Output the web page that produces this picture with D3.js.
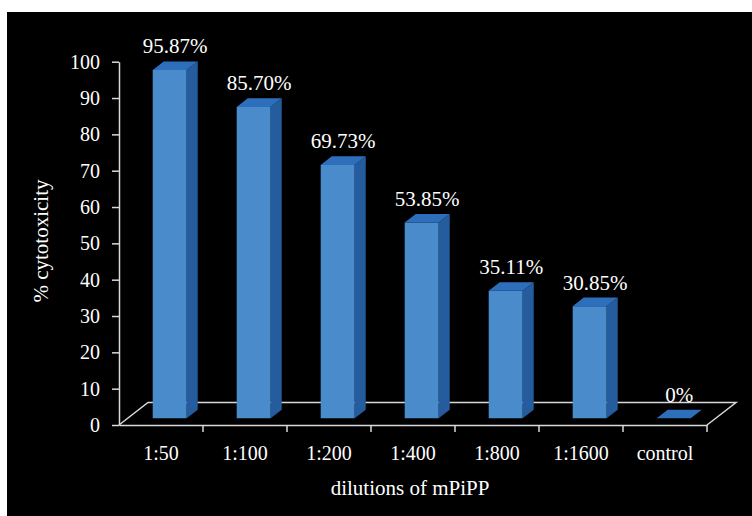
<!DOCTYPE html>
<html>
<head>
<meta charset="utf-8">
<script src="https://cdn.jsdelivr.net/npm/d3@7"></script>
<style>
  body { margin: 0; background: #fff; }
  svg { display: block; }
  text { font-family: "Liberation Serif", Tinos, "Times New Roman", Times, "DejaVu Serif", serif; fill: #fff; }
</style>
</head>
<body>
<svg id="chart" width="752" height="516"></svg>
<script>
const categories = ["1:50", "1:100", "1:200", "1:400", "1:800", "1:1600", "control"];
const values = [95.87, 85.70, 69.73, 53.85, 35.11, 30.85, 0];
const valueLabels = ["95.87%", "85.70%", "69.73%", "53.85%", "35.11%", "30.85%", "0%"];
const yTicks = [0, 10, 20, 30, 40, 50, 60, 70, 80, 90, 100];

const FONT = '"Liberation Serif", Tinos, "Times New Roman", Times, "DejaVu Serif", serif';
const svg = d3.select("#chart");
svg.append("rect").attr("x", 7).attr("y", 12).attr("width", 745).attr("height", 504).attr("fill", "#000");

const x = d3.scaleBand().domain(categories).range([119, 707]).padding(0);
const y = d3.scaleLinear().domain([0, 100]).range([425, 61.7]);

const floorD = { dx: 29, dy: -22.5 };
const fFront = 0.3, fBack = 0.68;
const axisColor = "#d9d9d9";

// floor
const x0 = x.range()[0], x1 = x.range()[1], y0 = y(0);
const floor = svg.append("g").attr("stroke", axisColor).attr("stroke-width", 1.5).attr("fill", "none");
floor.append("path").attr("d", `M${x0},${y0}L${x0 + floorD.dx},${y0 + floorD.dy}L${x1 + floorD.dx},${y0 + floorD.dy}L${x1},${y0}`);

// y axis
const yAxis = svg.append("g").attr("transform", `translate(${x0},0)`)
  .call(d3.axisLeft(y).tickValues(yTicks).tickSize(7).tickSizeOuter(0).tickPadding(12).tickFormat(d3.format("d")));
yAxis.attr("font-family", FONT);
yAxis.selectAll("path,line").attr("stroke", axisColor).attr("stroke-width", 1.5);
yAxis.selectAll("text").attr("font-size", 20).attr("fill", "#fff").attr("font-family", FONT);

// x axis
const xAxis = svg.append("g").attr("transform", `translate(0,${y0})`)
  .call(d3.axisBottom(x).tickSize(0).tickSizeOuter(0).tickPadding(0));
xAxis.attr("font-family", FONT);
xAxis.select(".domain").attr("stroke", axisColor).attr("stroke-width", 1.5);
xAxis.selectAll("text").attr("font-size", 20).attr("fill", "#fff").attr("dy", null).attr("y", 35).attr("font-family", FONT);
xAxis.selectAll(".bound").data(categories).enter().append("line")
  .attr("x1", d => x(d) + x.step()).attr("x2", d => x(d) + x.step())
  .attr("y1", 0).attr("y2", 7).attr("stroke", axisColor).attr("stroke-width", 1.5);

// bars
const barW = 34;
const fdx = floorD.dx * fFront, fdy = floorD.dy * fFront;
const bdx = floorD.dx * (fBack - fFront), bdy = floorD.dy * (fBack - fFront);
const bars = svg.append("g");
categories.forEach((c, i) => {
  const v = values[i];
  const cx = x(c) + x.bandwidth() / 2 + fdx;
  const l = cx - barW / 2, r = cx + barW / 2;
  const yt = y(v) + fdy, yb = y(0) + fdy;
  const g = bars.append("g");
  if (yb - yt > 0.5) {
    g.append("path").attr("d", `M${l},${yb}L${r},${yb}L${r},${yt}L${l},${yt}Z`).attr("fill", "#4a8ccb");
    g.append("path").attr("d", `M${r},${yb}L${r + bdx},${yb + bdy}L${r + bdx},${yt + bdy}L${r},${yt}Z`).attr("fill", "#245c9e");
  }
  g.append("path").attr("d", `M${l},${yt}L${r},${yt}L${r + bdx},${yt + bdy}L${l + bdx},${yt + bdy}Z`).attr("fill", "#2d6fbb");
  svg.append("text").attr("x", cx + bdx / 2).attr("y", yt + bdy - 8).attr("text-anchor", "middle")
    .attr("font-size", 21).attr("font-family", FONT).text(valueLabels[i]);
});

// titles
svg.append("text").attr("x", 410).attr("y", 495).attr("text-anchor", "middle").attr("font-size", 21).attr("font-family", FONT).text("dilutions of mPiPP");
svg.append("text").attr("transform", "translate(48,241) rotate(-90)").attr("text-anchor", "middle").attr("font-size", 21).attr("font-family", FONT).text("% cytotoxicity");
</script>
</body>
</html>
